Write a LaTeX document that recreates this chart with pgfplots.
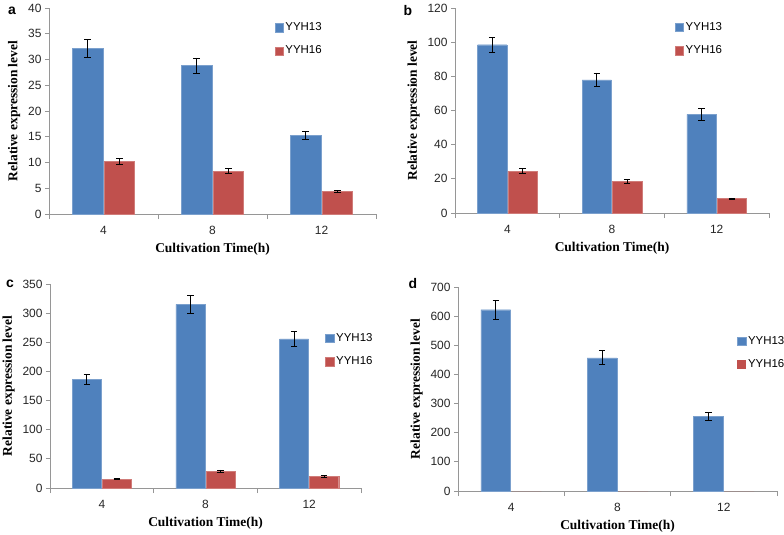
\documentclass[border=0pt]{standalone}
\usepackage{pgfplots}
\pgfplotsset{compat=1.18}
\usepackage{fontspec}
\setmainfont{Liberation Sans}
\newfontfamily\labfont{Liberation Serif}
\definecolor{xblue}{RGB}{79,129,189}
\definecolor{xred}{RGB}{192,80,77}
\definecolor{axgray}{RGB}{150,150,150}
\pgfplotsset{
  panel/.style={
    scale only axis,
    axis x line*=bottom, axis y line*=left,
    axis line style={draw=axgray, line width=0.8bp},
    xmin=-0.5, xmax=2.5, ymin=0,
    xtick={0,1,2}, xticklabels={4,8,12},
    major x tick style={draw=none},
    minor xtick={-0.5,0.5,1.5,2.5},
    minor x tick style={axgray, line width=0.8bp},
    y tick style={axgray, line width=0.8bp},
    tick align=outside, minor tick length=5bp, major tick length=4bp,
    ybar, bar width=0.28,
    tick label style={font=\fontsize{12}{14}\selectfont, text=black!85},
    xticklabel style={yshift=-5bp},
    /pgf/number format/assume math mode=true,
    xlabel={Cultivation Time(h)}, ylabel={Relative expression level},
    xlabel style={font=\labfont\bfseries\fontsize{13.5}{15}\selectfont, yshift=-1bp},
    ylabel style={font=\labfont\bfseries\fontsize{13.5}{15}\selectfont, yshift=1bp},
    legend style={draw=none, fill=none, font=\fontsize{11.5}{13}\selectfont, row sep=10bp, anchor=north west, cells={anchor=west}},
    legend image code/.code={\fill[##1] (0bp,-4.5bp) rectangle (8.5bp,4bp);},
  },
  bl/.style={fill=xblue, draw=xblue!75!white, bar shift=-0.145,
    error bars/.cd, y dir=both, y explicit,
    error bar style={black, line width=0.8bp},
    error mark options={black, line width=0.8bp, mark size=3.2bp, rotate=90}},
  rd/.style={fill=xred, draw=xred!75!white, bar shift=0.145,
    error bars/.cd, y dir=both, y explicit,
    error bar style={black, line width=0.8bp},
    error mark options={black, line width=0.8bp, mark size=3.2bp, rotate=90}},
}
\begin{document}
\begin{tikzpicture}
\useasboundingbox (0,0) rectangle (784bp,-535bp);
% panel a
\begin{axis}[panel, at={(49bp,-214bp)}, anchor=south west, width=327bp, height=206bp,
  ymax=40, ytick={0,5,...,40},
  legend style={at={(axis description cs:0.68,0.95)}}]
\addplot[bl] coordinates {(0,32.2) +- (0,1.7) (1,28.8) +- (0,1.5) (2,15.3) +- (0,0.8)};
\addplot[rd] coordinates {(0,10.2) +- (0,0.5) (1,8.3) +- (0,0.5) (2,4.4) +- (0,0.15)};
\legend{YYH13,YYH16}
\end{axis}
\node[font=\fontsize{14}{16}\selectfont\bfseries] at (12bp,-11bp) {a};
% panel b
\begin{axis}[panel, at={(455bp,-213bp)}, anchor=south west, width=314bp, height=205bp,
  ymax=120, ytick={0,20,...,120},
  legend style={at={(axis description cs:0.69,0.95)}}]
\addplot[bl] coordinates {(0,98.5) +- (0,4.5) (1,78) +- (0,4) (2,57.7) +- (0,3.3)};
\addplot[rd] coordinates {(0,24.5) +- (0,1.5) (1,18.5) +- (0,1.2) (2,8.5) +- (0,0.3)};
\legend{YYH13,YYH16}
\end{axis}
\node[font=\fontsize{14}{16}\selectfont\bfseries] at (408bp,-11bp) {b};
% panel c
\begin{axis}[panel, at={(50bp,-488bp)}, anchor=south west, width=311bp, height=204bp,
  ymax=350, ytick={0,50,...,350},
  legend style={at={(axis description cs:0.875,0.78)}}]
\addplot[bl] coordinates {(0,186) +- (0,9) (1,315) +- (0,15) (2,256) +- (0,13)};
\addplot[rd] coordinates {(0,15) +- (0,1) (1,29) +- (0,2) (2,20) +- (0,1)};
\legend{YYH13,YYH16}
\end{axis}
\node[font=\fontsize{14}{16}\selectfont\bfseries] at (10bp,-284bp) {c};
% panel d
\begin{axis}[panel, at={(458bp,-491bp)}, anchor=south west, width=319bp, height=204bp,
  ymax=700, ytick={0,100,...,700},
  legend style={at={(axis description cs:0.865,0.78)}}]
\addplot[bl] coordinates {(0,622) +- (0,32) (1,457) +- (0,24) (2,257) +- (0,14)};
\addplot[fill=xred, draw=none, bar shift=0.145] coordinates {(0,0) (1,0) (2,0)};
\legend{YYH13,YYH16}
\end{axis}
\node[font=\fontsize{14}{16}\selectfont\bfseries] at (413bp,-284bp) {d};
\end{tikzpicture}
\end{document}
